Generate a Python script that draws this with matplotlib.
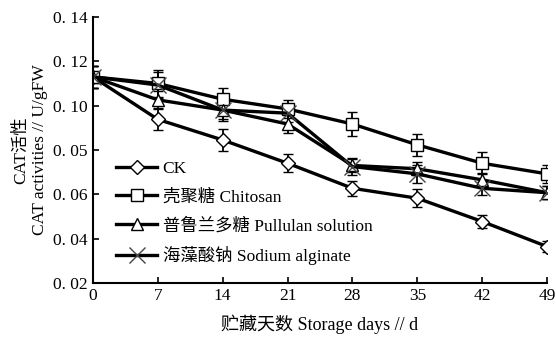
import matplotlib
matplotlib.use('Agg')
import matplotlib.pyplot as plt
import numpy as np

plt.rcParams['font.family'] = ['Liberation Serif', 'Noto Sans CJK SC']

days = [0, 7, 14, 21, 28, 35, 42, 49]

ck = [0.113, 0.0938, 0.0845, 0.074, 0.0627, 0.0582, 0.0477, 0.0364]
ck_err = [0.005, 0.005, 0.005, 0.004, 0.0034, 0.004, 0.003, 0.0025]

chitosan = [0.113, 0.110, 0.1029, 0.0985, 0.0917, 0.0823, 0.074, 0.0692]
chitosan_err = [0.005, 0.006, 0.005, 0.004, 0.0055, 0.005, 0.005, 0.004]

pullulan = [0.113, 0.1026, 0.098, 0.0917, 0.073, 0.0715, 0.0665, 0.0607]
pullulan_err = [0.005, 0.004, 0.004, 0.004, 0.003, 0.003, 0.003, 0.003]

alginate = [0.113, 0.1093, 0.098, 0.0966, 0.0725, 0.0692, 0.0627, 0.0607]
alginate_err = [0.005, 0.006, 0.005, 0.004, 0.004, 0.004, 0.003, 0.003]

labels = ['CK', '壳聚糖 Chitosan', '普鲁兰多糖 Pullulan solution', '海藻酸钠 Sodium alginate']
yticks = [0.02, 0.04, 0.06, 0.08, 0.10, 0.12, 0.14]
ytick_labels = ['0. 02', '0. 04', '0. 06', '0. 05', '0. 10', '0. 12', '0. 14']

fig = plt.figure(figsize=(5.56, 3.4), dpi=100)
ax = fig.add_axes([0.167, 0.168, 0.817, 0.782])

series = [(ck, ck_err, 'D', 7), (chitosan, chitosan_err, 's', 8),
          (pullulan, pullulan_err, '^', 9), (alginate, alginate_err, 'x', 11)]
handles = []
for (vals, err, m, ms), lab in zip(series, labels):
    c = ax.errorbar(days, vals, yerr=err, color='black', lw=2.4, marker=m, ms=ms,
                    mfc='white', mec='black' if m != 'x' else '#444444', mew=1.0,
                    ecolor='black', elinewidth=1.3, capsize=3.5, capthick=1.5, label=lab)
    handles.append(c[0])

ax.set_xlim(0, 49)
ax.set_ylim(0.02, 0.14)
ax.set_xticks(days)
ax.set_yticks(yticks)
ax.set_yticklabels(ytick_labels)
ax.tick_params(direction='in', length=4, width=1.2, labelsize=12.5)
ax.spines['top'].set_visible(False)
ax.spines['right'].set_visible(False)
ax.spines['left'].set_linewidth(1.5)
ax.spines['bottom'].set_linewidth(1.5)

ax.set_xlabel('贮藏天数 Storage days // d', fontsize=13, labelpad=8)
ax.set_ylabel('CAT活性\nCAT activities // U/gFW', fontsize=12.5)

ax.legend(handles, labels, loc='upper left', bbox_to_anchor=(0.035, 0.485), frameon=False,
          fontsize=12.5, handlelength=2.4, labelspacing=0.7, handletextpad=0.3,
          borderaxespad=0)

fig.savefig('out.png', dpi=100)
